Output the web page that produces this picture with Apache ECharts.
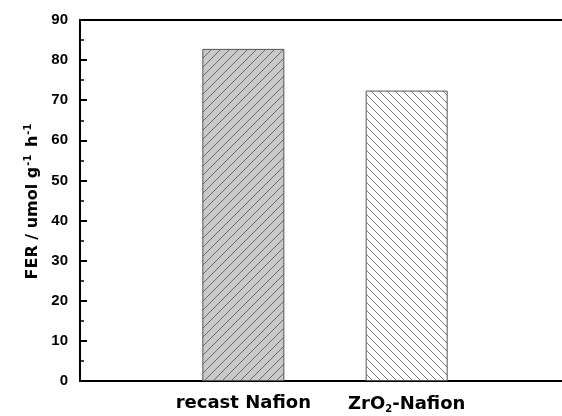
<!DOCTYPE html>
<html><head><meta charset="utf-8">
<script src="https://cdn.jsdelivr.net/npm/echarts@6/dist/echarts.min.js"></script>
<style>html,body{margin:0;padding:0;background:#fff}#c{width:562px;height:416px}</style>
</head><body><div id="c"></div>
<script>
const categories = ['', 'recast Nafion', 'ZrO2-Nafion', ''];
const values = [null, 82.8, 72.4, null];
const yTicks = [0, 10, 20, 30, 40, 50, 60, 70, 80, 90];

function hatch(size, bg, fg, dir) {
  const c = document.createElement('canvas');
  c.width = size; c.height = size;
  const g = c.getContext('2d');
  g.fillStyle = bg; g.fillRect(0, 0, size, size);
  g.strokeStyle = fg; g.lineWidth = 1;
  g.beginPath();
  for (let k = -1; k <= 1; k++) {
    if (dir > 0) { g.moveTo(k * size, size); g.lineTo(k * size + size, 0); }
    else { g.moveTo(k * size, 0); g.lineTo(k * size + size, size); }
  }
  g.stroke();
  return c;
}
const p1 = hatch(9, '#c9c9c9', '#6a6a6a', 1);
const p2 = hatch(8, '#ffffff', '#7a7a7a', -1);

const XF = 'DejaVu Sans';
const YF = 'Liberation Sans, Arial';
const chart = echarts.init(document.getElementById('c'));
chart.setOption({
  animation: false,
  grid: { left: 80, top: 20, width: 490, height: 361, outerBoundsMode: 'none', containLabel: false, show: true, borderColor: '#000', borderWidth: 2 },
  xAxis: {
    type: 'category', data: categories, boundaryGap: false,
    axisLine: { lineStyle: { color: '#000', width: 2 } },
    axisTick: { show: false },
    axisLabel: {
      margin: 13, interval: 0,
      formatter: v => v === 'ZrO2-Nafion' ? '{b|ZrO}{s|2}{b|-Nafion}' : '{b|' + v + '}',
      rich: {
        b: { fontFamily: XF, fontWeight: 'bold', fontSize: 18, color: '#000' },
        s: { fontFamily: XF, fontWeight: 'bold', fontSize: 10, color: '#000', verticalAlign: 'bottom', padding: [10, 0, 0, 0] }
      }
    },
    splitLine: { show: false }
  },
  yAxis: {
    type: 'value', min: yTicks[0], max: yTicks[yTicks.length - 1], interval: 10,
    axisLine: { show: true, lineStyle: { color: '#000', width: 2 } },
    axisTick: { show: true, inside: true, length: 7, lineStyle: { color: '#000', width: 2 } },
    minorTick: { show: true, splitNumber: 2, length: 4, lineStyle: { color: '#000', width: 1.5 } },
    splitLine: { show: false },
    axisLabel: { margin: 12, color: '#000', fontFamily: YF, fontWeight: 'bold', fontSize: 15 },
    name: '{b|FER / umol g}{s|-1}{b| h}{s|-1}',
    nameLocation: 'middle', nameGap: 38, nameRotate: 90,
    nameTextStyle: {
      rich: {
        b: { fontFamily: XF, fontWeight: 'bold', fontSize: 16, color: '#000' },
        s: { fontFamily: XF, fontWeight: 'bold', fontSize: 10, color: '#000', verticalAlign: 'top', padding: [0, 2, 9, 1] }
      }
    }
  },
  series: [{
    type: 'bar', barWidth: 82,
    data: values.map((v, i) => v == null ? null : {
      value: v,
      itemStyle: { color: { image: i === 1 ? p1 : p2, repeat: 'repeat' }, borderColor: '#555', borderWidth: 1 }
    })
  }]
});
</script></body></html>
